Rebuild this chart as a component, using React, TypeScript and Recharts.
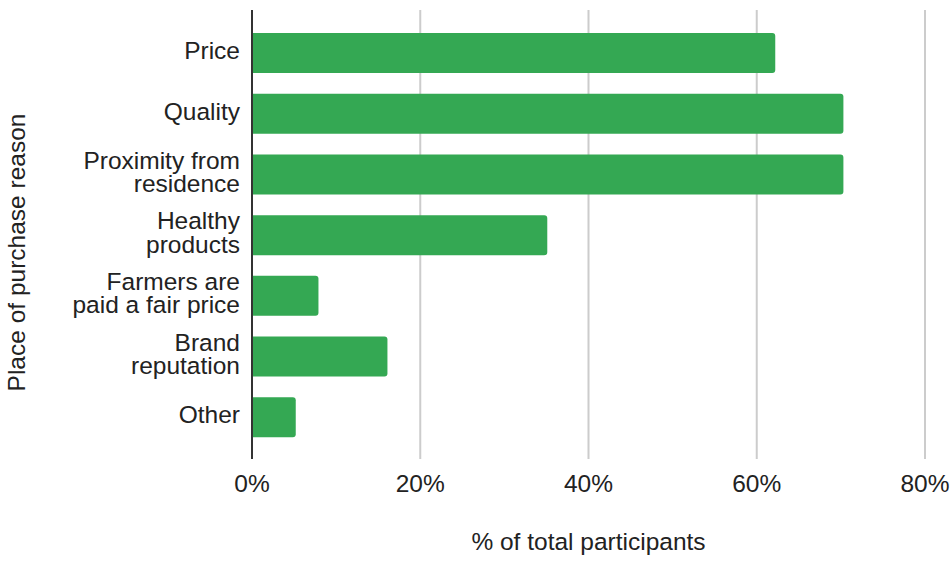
import { Bar, BarChart, CartesianGrid, XAxis, YAxis } from 'recharts'

const categories = [
  'Price',
  'Quality',
  'Proximity from residence',
  'Healthy products',
  'Farmers are paid a fair price',
  'Brand reputation',
  'Other',
]
const labelLines = [
  ['Price'],
  ['Quality'],
  ['Proximity from', 'residence'],
  ['Healthy', 'products'],
  ['Farmers are', 'paid a fair price'],
  ['Brand', 'reputation'],
  ['Other'],
]
const shares = [62.2, 70.3, 70.3, 35.1, 7.9, 16.1, 5.2]
const xTicks = [0, 20, 40, 60, 80]

const data = categories.map((reason, i) => ({ reason, share: shares[i] }))

const FONT = '"Liberation Sans", Arial, sans-serif'
const TEXT = '#222222'
const SIZE = 24.5

function ReasonTick({ x, y, payload }: any) {
  const idx = categories.indexOf(payload.value)
  const lines = labelLines[idx] || [payload.value]
  return (
    <g>
      {lines.map((line, i) => (
        <text
          key={line}
          x={x - 12}
          y={y + 5.5 + (i - (lines.length - 1) / 2) * 23.5}
          textAnchor="end"
          fontFamily={FONT}
          fontSize={SIZE}
          fill={TEXT}
        >
          {line}
        </text>
      ))}
    </g>
  )
}

function PercentTick({ x, y, payload }: any) {
  return (
    <text x={x} y={y + 33} textAnchor="middle" fontFamily={FONT} fontSize={SIZE} fill={TEXT}>
      {`${payload.value}%`}
    </text>
  )
}

export default function App() {
  return (
    <div style={{ width: 952, height: 564, background: '#fff' }}>
      <style>{'body{margin:0}'}</style>
      <BarChart
        width={952}
        height={564}
        data={data}
        layout="vertical"
        margin={{ top: 10, right: 27, bottom: 0, left: 0 }}
        barSize={40}
      >
        <CartesianGrid horizontal={false} stroke="#cccccc" strokeWidth={2} />
        <XAxis
          type="number"
          domain={[0, 80]}
          ticks={xTicks}
          axisLine={false}
          tickLine={false}
          tickSize={0}
          tickMargin={0}
          height={105}
          tick={<PercentTick />}
          label={{
            content: ({ viewBox }: any) => (
              <text
                x={viewBox.x + viewBox.width / 2}
                y={viewBox.y + 91}
                textAnchor="middle"
                fontFamily={FONT}
                fontSize={SIZE}
                fill={TEXT}
              >
                % of total participants
              </text>
            ),
          }}
        />
        <YAxis
          type="category"
          dataKey="reason"
          width={252}
          padding={{ top: 13, bottom: 11 }}
          axisLine={{ stroke: '#333333', strokeWidth: 2 }}
          tickLine={false}
          tickSize={0}
          tickMargin={0}
          interval={0}
          tick={<ReasonTick />}
          label={{
            content: ({ viewBox }: any) => {
              const cx = 25
              const cy = viewBox.y + viewBox.height / 2 + 18
              return (
                <text
                  x={cx}
                  y={cy}
                  transform={`rotate(-90 ${cx} ${cy})`}
                  textAnchor="middle"
                  fontFamily={FONT}
                  fontSize={SIZE}
                  fill={TEXT}
                >
                  Place of purchase reason
                </text>
              )
            },
          }}
        />
        <Bar dataKey="share" fill="#34a853" radius={[0, 3, 3, 0]} isAnimationActive={false} />
      </BarChart>
    </div>
  )
}
